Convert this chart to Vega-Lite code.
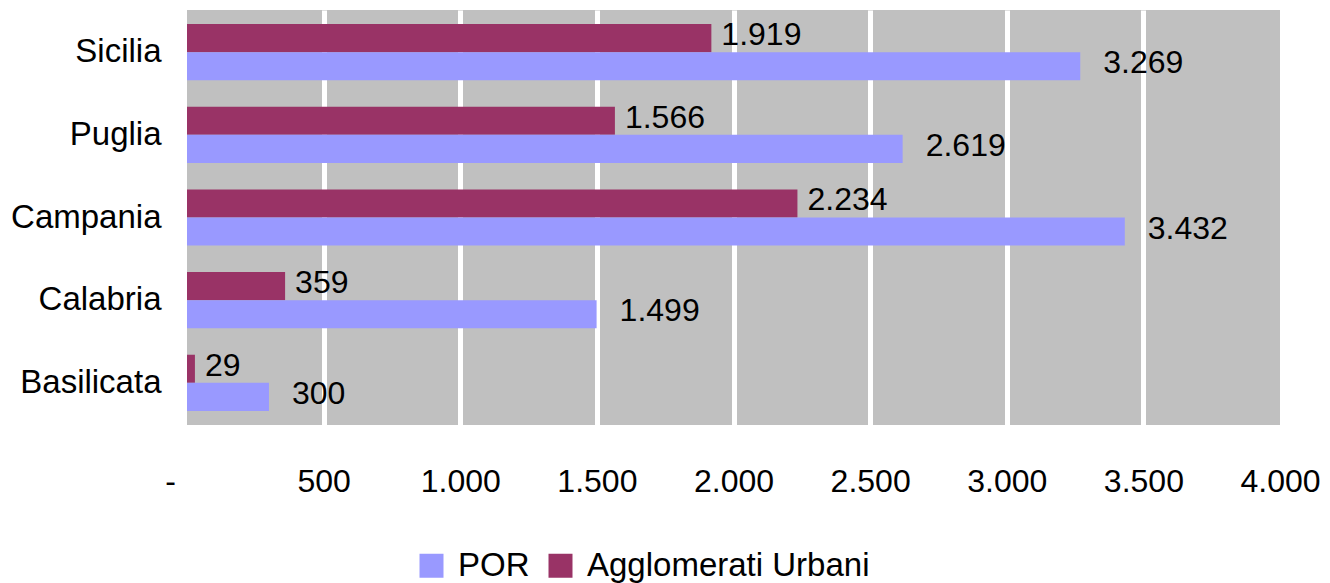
{
  "$schema": "https://vega.github.io/schema/vega-lite/v6.json",
  "autosize": {"type": "none"},
  "padding": {"left": 187, "top": 10, "right": 50, "bottom": 158},
  "width": 1093,
  "height": 415,
  "config": {
    "locale": {"number": {"decimal": ",", "thousands": ".", "grouping": [3], "currency": ["€", ""]}},
    "view": {"fill": "#C0C0C0", "stroke": null},
    "font": "Liberation Sans"
  },
  "data": {
    "values": [
      {"region": "Sicilia", "series": "Agglomerati Urbani", "value": 1919},
      {"region": "Sicilia", "series": "POR", "value": 3269},
      {"region": "Puglia", "series": "Agglomerati Urbani", "value": 1566},
      {"region": "Puglia", "series": "POR", "value": 2619},
      {"region": "Campania", "series": "Agglomerati Urbani", "value": 2234},
      {"region": "Campania", "series": "POR", "value": 3432},
      {"region": "Calabria", "series": "Agglomerati Urbani", "value": 359},
      {"region": "Calabria", "series": "POR", "value": 1499},
      {"region": "Basilicata", "series": "Agglomerati Urbani", "value": 29},
      {"region": "Basilicata", "series": "POR", "value": 300}
    ]
  },
  "encoding": {
    "y": {
      "field": "region", "type": "nominal",
      "sort": ["Sicilia", "Puglia", "Campania", "Calabria", "Basilicata"],
      "scale": {"paddingInner": 0.32, "paddingOuter": 0.17},
      "axis": {"title": null, "domain": false, "ticks": false, "labelFontSize": 33, "labelPadding": 26, "labelColor": "#000000", "labelFont": "Liberation Sans"}
    },
    "yOffset": {
      "field": "series", "type": "nominal",
      "sort": ["Agglomerati Urbani", "POR"],
      "scale": {"paddingInner": 0, "paddingOuter": 0}
    },
    "x": {
      "field": "value", "type": "quantitative",
      "scale": {"domain": [0, 4000], "nice": false, "zero": true},
      "axis": {
        "title": null, "domain": false, "ticks": false,
        "values": [0, 500, 1000, 1500, 2000, 2500, 3000, 3500, 4000],
        "format": ",d",
        "labelExpr": "datum.value == 0 ? '-' : replace(datum.label, ',', '.')",
        "labelOffset": {"condition": {"test": "datum.value == 0", "value": -17}, "value": 0},
        "labelFontSize": 32, "labelColor": "#000000", "labelPadding": 41, "labelBaseline": "top",
        "labelFlush": false, "labelOverlap": false,
        "grid": true, "gridColor": "#FFFFFF", "gridWidth": 5,
        "gridOpacity": {"condition": {"test": "datum.value == 0 || datum.value == 4000", "value": 0}, "value": 1}
      }
    }
  },
  "layer": [
    {
      "mark": {"type": "bar"},
      "encoding": {
        "color": {
          "field": "series", "type": "nominal",
          "scale": {"domain": ["POR", "Agglomerati Urbani"], "range": ["#9999FF", "#993366"]},
          "legend": {
            "title": null, "orient": "none", "direction": "horizontal",
            "legendX": 228, "legendY": 539, "padding": 0,
            "symbolType": "square", "symbolSize": 576, "symbolStrokeWidth": 0,
            "labelFontSize": 33, "labelColor": "#000000", "labelOffset": 10, "labelLimit": 0,
            "columnPadding": 14, "labelFont": "Liberation Sans"
          }
        }
      }
    },
    {
      "transform": [{"filter": "datum.series == 'Agglomerati Urbani'"}],
      "mark": {"type": "text", "align": "left", "baseline": "middle", "dx": 10, "dy": -3, "fontSize": 32, "color": "#000000"},
      "encoding": {"text": {"field": "value", "type": "quantitative", "format": ",d"}}
    },
    {
      "transform": [{"filter": "datum.series == 'POR'"}],
      "mark": {"type": "text", "align": "left", "baseline": "middle", "dx": 23, "dy": -3, "fontSize": 32, "color": "#000000"},
      "encoding": {"text": {"field": "value", "type": "quantitative", "format": ",d"}}
    }
  ]
}
